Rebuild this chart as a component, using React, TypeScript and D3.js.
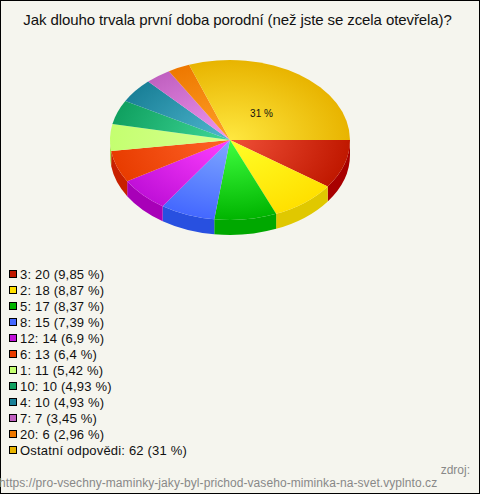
import React from "react";
import * as d3 from "d3";

const title = "Jak dlouho trvala první doba porodní (než jste se zcela otevřela)?";
const labels = ["3: 20 (9,85 %)", "2: 18 (8,87 %)", "5: 17 (8,37 %)", "8: 15 (7,39 %)", "12: 14 (6,9 %)", "6: 13 (6,4 %)", "1: 11 (5,42 %)", "10: 10 (4,93 %)", "4: 10 (4,93 %)", "7: 7 (3,45 %)", "20: 6 (2,96 %)", "Ostatní odpovědi: 62 (31 %)"];
const values = [20, 18, 17, 15, 14, 13, 11, 10, 10, 7, 6, 62];
const edgeColors = ["#c01800", "#ffe000", "#00b400", "#4468ff", "#c010d8", "#e83c00", "#c4ff70", "#10a060", "#1a8098", "#c060c0", "#ee7800", "#e8b400"];
const centerColors = ["#f05038", "#ffff28", "#40ff40", "#80a8ff", "#ff40ff", "#ff6428", "#d8ff90", "#40d898", "#50b8d0", "#f098f0", "#ffa028", "#ffe840"];
const sideColors = ["#a80000", "#e0c800", "#00a800", "#2850e0", "#a800b8", "#c82000", "#a8e050", "#008848", "#006880", "#a040a0", "#d06000", "#c89800"];

const CX = 230, CY = 140, RX = 120, RY = 80, DEPTH = 15;
const rScale = d3.scaleLinear().domain([0, 1]).range([0, RX]);
const legendY = d3.scaleLinear().domain([0, 1]).range([274, 290]);

export default function App() {
  const pie = d3.pie<number>().sort(null).startAngle(Math.PI / 2).endAngle(Math.PI / 2 + 2 * Math.PI);
  const arcs = pie(values);
  const arc = d3.arc<d3.PieArcDatum<number>>().innerRadius(0).outerRadius(rScale(1));
  const pt = (a: number) => [CX + RX * Math.sin(a), CY - RY * Math.cos(a)];
  const wall = (a0: number, a1: number) => {
    const s = Math.max(a0, Math.PI / 2), e = Math.min(a1, 1.5 * Math.PI);
    if (s >= e) return null;
    const [x0, y0] = pt(s), [x1, y1] = pt(e);
    return `M${x0},${y0}A${RX},${RY} 0 0 1 ${x1},${y1}L${x1},${y1 + DEPTH}A${RX},${RY} 0 0 0 ${x0},${y0 + DEPTH}Z`;
  };
  const font = "'Liberation Sans', Arial, sans-serif";
  return (
    <svg width={480} height={494} style={{ position: "absolute", left: 0, top: 0, display: "block" }} fontFamily={font}>
      <defs>
        {edgeColors.map((c, i) => (
          <radialGradient key={i} id={`g${i}`} gradientUnits="userSpaceOnUse" cx={0} cy={0} r={RX}>
            <stop offset="0" stopColor={centerColors[i]} />
            <stop offset="1" stopColor={c} />
          </radialGradient>
        ))}
      </defs>
      <rect x={0.5} y={0.5} width={479} height={493} fill="#f5f5ee" stroke="#000" />
      <text x={237.5} y={25} textAnchor="middle" fontSize={15} letterSpacing={-0.09} fill="#111">{title}</text>
      {arcs.map((a, i) => {
        const d = wall(a.startAngle, a.endAngle);
        return d ? <path key={i} d={d} fill={sideColors[i]} /> : null;
      })}
      <g transform={`translate(${CX},${CY}) scale(1,${RY / RX})`}>
        {arcs.map((a, i) => <path key={i} d={arc(a) as string} fill={`url(#g${i})`} />)}
      </g>
      <text x={261.5} y={117} textAnchor="middle" fontSize={10} fill="#111">31 %</text>
      {labels.map((l, i) => (
        <g key={i}>
          <rect x={9.5} y={legendY(i) - 3.5} width={7} height={7} fill={edgeColors[i]} stroke="#000" />
          <text x={20} y={legendY(i) + 4.5} fontSize={13} letterSpacing={0.19} fill="#111">{l}</text>
        </g>
      ))}
      <text x={470} y={474} textAnchor="end" fontSize={12} fill="#888">zdroj:</text>
      <text x={-1} y={487} fontSize={12} letterSpacing={0.07} fill="#888">https://pro-vsechny-maminky-jaky-byl-prichod-vaseho-miminka-na-svet.vyplnto.cz</text>
    </svg>
  );
}
